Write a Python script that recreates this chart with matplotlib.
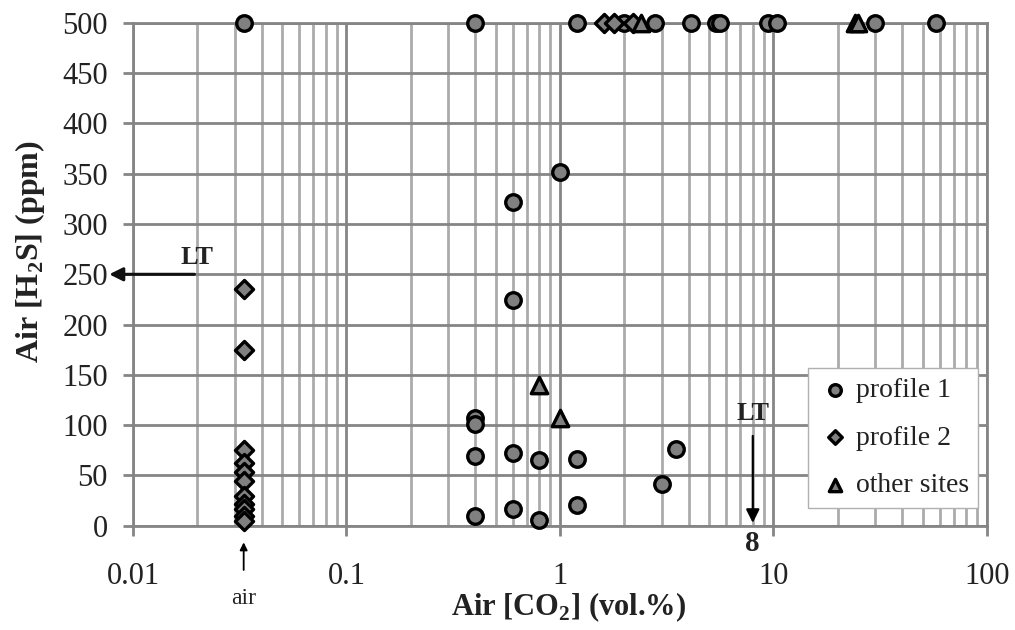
import matplotlib
matplotlib.use("Agg")
import matplotlib.pyplot as plt
from matplotlib.ticker import LogLocator, FixedLocator, NullFormatter

plt.rcParams["font.family"] = "Liberation Serif"
plt.rcParams["mathtext.fontset"] = "custom"
plt.rcParams["mathtext.rm"] = "Liberation Serif"
plt.rcParams["mathtext.bf"] = "Liberation Serif:bold"

# profile 1 (circles)
p1_co2 = [0.033, 0.4, 1.2, 2.0, 2.8, 4.1, 5.4, 5.6, 9.4, 10.4, 30, 58,
          1.0, 0.6, 0.6, 0.4, 0.4, 0.4, 0.4, 0.6, 0.6, 0.8, 0.8, 1.2, 1.2, 3.5, 3.0]
p1_h2s = [500, 500, 500, 500, 500, 500, 500, 500, 500, 500, 500, 500,
          352, 322, 224, 107, 101, 69, 10, 72, 17, 65, 6, 66, 21, 76, 41]

# profile 2 (diamonds)
p2_co2 = [0.033] * 11 + [1.6, 1.8, 2.2]
p2_h2s = [235, 175, 75, 62, 53, 44, 30, 22, 17, 10, 5, 500, 500, 500]

# other sites (triangles)
os_co2 = [0.8, 1.0, 2.4, 24, 25]
os_h2s = [140, 107, 500, 500, 500]

air_co2 = 0.033
lt_h2s = 250
lt_co2 = 8

fig = plt.figure(figsize=(10.15, 6.3), dpi=100)
ax = fig.add_axes([0.131, 0.1656, 0.8414, 0.798])

ax.set_xscale("log")
ax.set_xlim(0.01, 100)
ax.set_ylim(0, 500)

ax.xaxis.set_minor_locator(LogLocator(base=10, subs=range(2, 10)))
ax.xaxis.set_minor_formatter(NullFormatter())
ax.set_xticks([0.01, 0.1, 1, 10, 100])
ax.set_xticklabels(["0.01", "0.1", "1", "10", "100"])
ax.yaxis.set_major_locator(FixedLocator(range(0, 501, 50)))

ax.grid(True, which="major", axis="y", color="#858585", linewidth=2.0)
ax.grid(True, which="major", axis="x", color="#858585", linewidth=2.0)
ax.grid(True, which="minor", axis="x", color="#ababab", linewidth=2.0)
ax.set_axisbelow(True)

for s in ax.spines.values():
    s.set_color("#858585")
    s.set_linewidth(2.0)

ax.tick_params(axis="both", which="major", length=7, width=2.0, color="#858585",
               labelsize=22, labelcolor="#222222")
ax.tick_params(axis="y", which="major", pad=11)
ax.tick_params(axis="x", which="minor", length=0)
ax.tick_params(axis="x", which="major", pad=19)

mk = dict(facecolor="#808080", edgecolor="black", linewidths=2.4, zorder=5,
          clip_on=False)
ax.scatter(p1_co2, p1_h2s, marker="o", s=125, label="profile 1", **mk)
ax.scatter(p2_co2, p2_h2s, marker="D", s=85, label="profile 2", **mk)
ax.scatter(os_co2, os_h2s, marker="^", s=140, label="other sites", **mk)

ax.set_xlabel(r"Air [CO$_\mathbf{2}$] (vol.%)", fontsize=22, fontweight="bold",
              labelpad=0, color="#222222")
ax.set_ylabel(r"Air [H$_\mathbf{2}$S] (ppm)", fontsize=23, fontweight="bold",
              labelpad=11, color="#222222")
ax.xaxis.label.set_x(0.5105)
ax.yaxis.label.set_y(0.546)

# H2S limit arrow
ax.annotate("", xy=(-0.031, lt_h2s), xycoords=ax.get_yaxis_transform(),
            xytext=(0.02, lt_h2s), textcoords="data",
            arrowprops=dict(arrowstyle="-|>", color="#111111", lw=2.2,
                            mutation_scale=20), annotation_clip=False)
ax.text(0.02, lt_h2s + 5, "LT", fontsize=19, fontweight="bold",
        ha="center", va="bottom", color="#222222")

# CO2 limit arrow
ax.annotate("", xy=(lt_co2, 0), xytext=(lt_co2, 92),
            arrowprops=dict(arrowstyle="-|>", color="black", lw=1.6,
                            mutation_scale=20), annotation_clip=False)
ax.text(lt_co2, 100, "LT", fontsize=19, fontweight="bold", ha="center",
        va="bottom", color="#222222")
ax.text(lt_co2, -4, "8", fontsize=21, fontweight="bold", ha="center", va="top",
        color="#222222")

# air arrow
ax.annotate("air", xy=(air_co2, 0), xycoords=ax.get_xaxis_transform(),
            xytext=(air_co2, -0.145), textcoords=ax.get_xaxis_transform(),
            fontsize=17, ha="center", va="center", color="#222222",
            arrowprops=dict(arrowstyle="-|>", color="black", lw=1.3,
                            mutation_scale=11, shrinkA=11, shrinkB=12),
            annotation_clip=False)

leg = ax.legend(loc="lower right", bbox_to_anchor=(0.99, 0.035), fontsize=20,
                frameon=True, fancybox=False, edgecolor="#b0b0b0",
                framealpha=1, borderpad=0.35, labelspacing=0.8,
                handletextpad=0.15, handlelength=1.2, borderaxespad=0,
                markerscale=0.75)
leg.get_frame().set_linewidth(1.0)
leg.set_zorder(10)
for t in leg.get_texts():
    t.set_color("#222222")

fig.savefig("out.png", dpi=100)
